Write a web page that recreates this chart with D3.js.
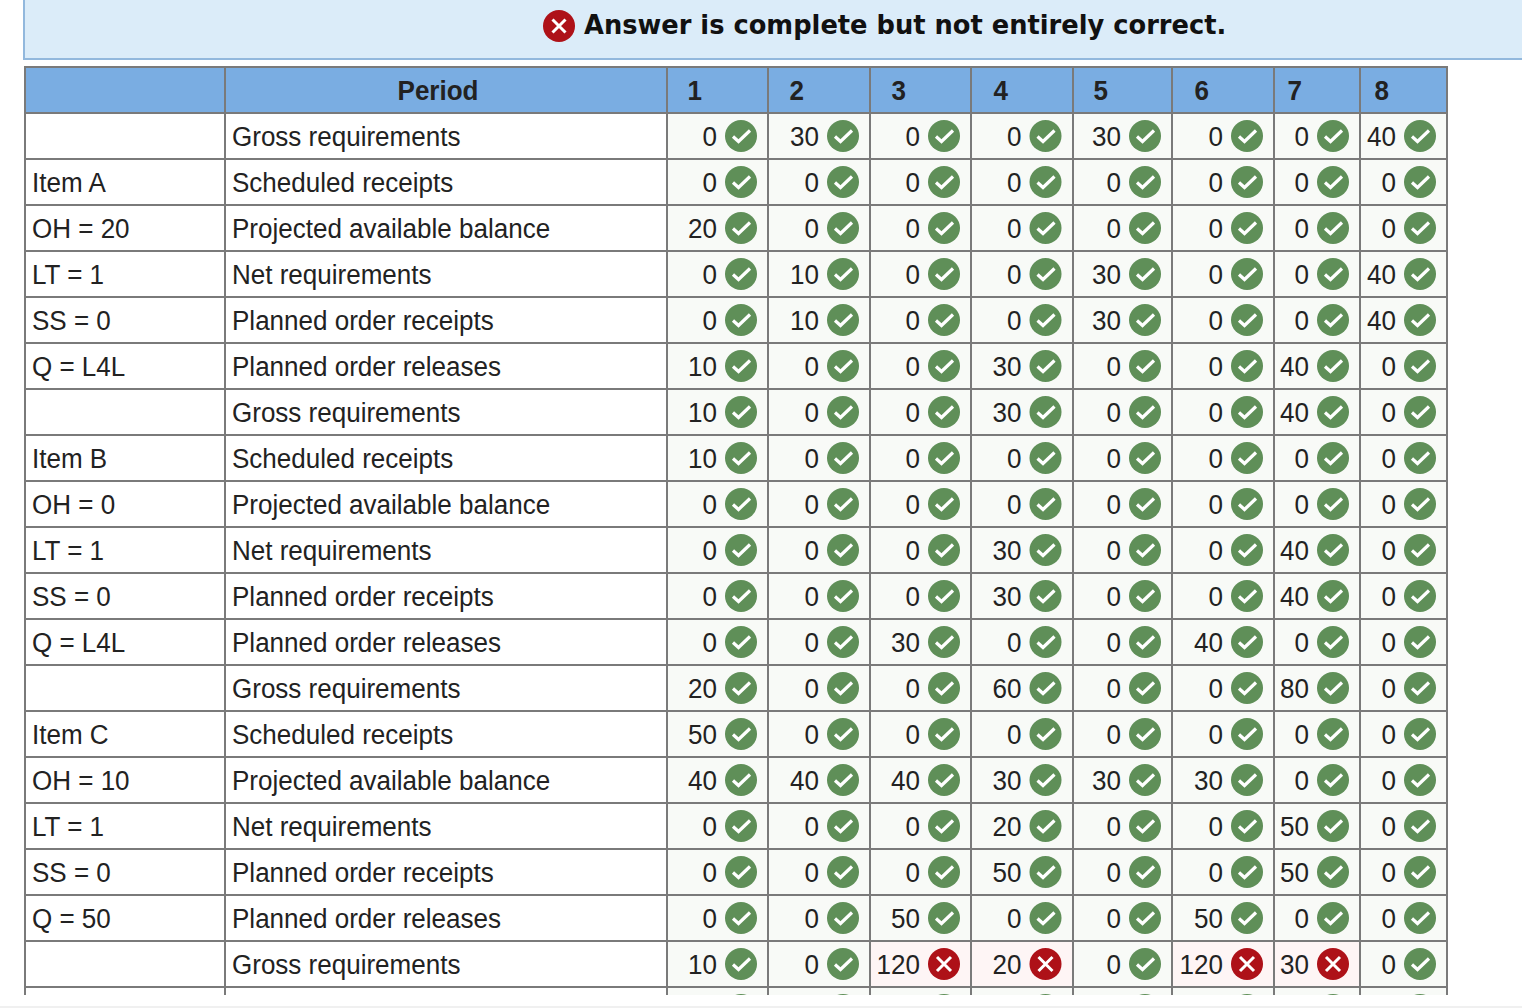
<!DOCTYPE html>
<html><head><meta charset="utf-8">
<script src="https://cdn.jsdelivr.net/npm/d3@7/dist/d3.min.js"></script>
<style>html,body{margin:0;padding:0;background:#fff;overflow:hidden}svg{display:block}</style>
</head><body><svg id="c" width="1522" height="1008"></svg>
<script>
const title = "Answer is complete but not entirely correct.";
const periods = [1,2,3,4,5,6,7,8];
const itemLabels = ["","Item A","OH = 20","LT = 1","SS = 0","Q = L4L","","Item B","OH = 0","LT = 1","SS = 0","Q = L4L","","Item C","OH = 10","LT = 1","SS = 0","Q = 50",""];
const rowNames = ["Gross requirements","Scheduled receipts","Projected available balance","Net requirements","Planned order receipts","Planned order releases"];
const rowLabels = d3.range(19).map(i => rowNames[i % 6]);
const values = [
 [0,30,0,0,30,0,0,40],[0,0,0,0,0,0,0,0],[20,0,0,0,0,0,0,0],[0,10,0,0,30,0,0,40],[0,10,0,0,30,0,0,40],[10,0,0,30,0,0,40,0],
 [10,0,0,30,0,0,40,0],[10,0,0,0,0,0,0,0],[0,0,0,0,0,0,0,0],[0,0,0,30,0,0,40,0],[0,0,0,30,0,0,40,0],[0,0,30,0,0,40,0,0],
 [20,0,0,60,0,0,80,0],[50,0,0,0,0,0,0,0],[40,40,40,30,30,30,0,0],[0,0,0,20,0,0,50,0],[0,0,0,50,0,0,50,0],[0,0,50,0,0,50,0,0],
 [10,0,120,20,0,120,30,0]
];
const wrongCells = ["18-2","18-3","18-5","18-6"];

const colEdges = [667,768,870,971,1073,1172,1274,1360,1447];
const iconOffset = [74,75,74,74.5,72,75,59,60];
const headOffset = [27.7,28.7,28.7,29.7,27.7,29.7,20.7,21.7];
const LINE="#7a7a7a", INK="#222222";
const svg = d3.select("#c");
const y = d3.scaleBand().domain(d3.range(-1,21)).range([67,67+46*22]).paddingInner(0);
const col = d3.scaleOrdinal().domain(periods).range(colEdges.slice(0,8));
const colEnd = d3.scaleOrdinal().domain(periods).range(colEdges.slice(1));
const icon = d3.scaleOrdinal().domain(periods).range(colEdges.slice(0,8).map((e,i)=>e+iconOffset[i]));
const X0=25,X1=225,X2=667,X3=1447,SX=0.964;
const TXT='"Liberation Sans",Arial,sans-serif';
const place=(x,yy)=>`translate(${x},${yy}) scale(${SX},1)`;

// banner
svg.append("rect").attr("x",24).attr("y",-2).attr("width",1500).attr("height",61).attr("fill","#dbecf9").attr("stroke","#92b8dd").attr("stroke-width",2);

function xIcon(g,cx,cy,r,arm){
  g.append("circle").attr("cx",cx).attr("cy",cy).attr("r",r).attr("fill","#ae1118");
  g.append("path").attr("d",`M${cx-arm},${cy-arm}L${cx+arm},${cy+arm}M${cx-arm},${cy+arm}L${cx+arm},${cy-arm}`)
    .attr("stroke","#fff").attr("stroke-width",3).attr("fill","none");
}
function okIcon(g,cx,cy){
  g.append("circle").attr("cx",cx).attr("cy",cy).attr("r",16).attr("fill","#5f8f58");
  g.append("path").attr("d",`M${cx-8},${cy+0.5}L${cx-2.5},${cy+5.5}L${cx+9},${cy-5.5}`)
    .attr("stroke","#fff").attr("stroke-width",3.2).attr("fill","none");
}
xIcon(svg,559,26,16,6.5);
svg.append("text").attr("x",584).attr("y",34).attr("font-family",'"DejaVu Sans",Verdana,sans-serif').attr("font-weight","bold").attr("font-size",25.72).attr("fill","#111").text(title);

svg.append("defs").append("clipPath").attr("id","clip").append("rect").attr("x",0).attr("y",60).attr("width",1522).attr("height",935);
const t = svg.append("g").attr("clip-path","url(#clip)");

// header
t.append("rect").attr("x",X0).attr("y",y(-1)).attr("width",X3-X0).attr("height",46).attr("fill","#7aade2");
t.append("text").attr("transform",place(438,y(-1)+33)).attr("text-anchor","middle").attr("font-family",TXT).attr("font-weight","bold").attr("font-size",27).attr("fill",INK).text("Period");
t.selectAll("text.ph").data(periods).join("text").attr("class","ph")
 .attr("transform",(p,i)=>place(col(p)+headOffset[i],y(-1)+33)).attr("text-anchor","middle").attr("font-family",TXT).attr("font-weight","bold").attr("font-size",27).attr("fill",INK).text(p=>p);

// cell backgrounds
const rows = d3.range(20);
rows.forEach(r=>{
  periods.forEach((p,j)=>{
    const bad = wrongCells.includes(r+"-"+j);
    t.append("rect").attr("x",col(p)).attr("y",y(r)).attr("width",colEnd(p)-col(p)).attr("height",46).attr("fill",bad?"#fef5f5":"#f8faf7");
  });
});
// labels
t.selectAll("text.item").data(itemLabels).join("text").attr("class","item")
 .attr("transform",(d,i)=>place(32,y(i)+33.4)).attr("font-family",TXT).attr("font-size",27).attr("fill",INK).text(d=>d);
t.selectAll("text.rowl").data(rowLabels).join("text").attr("class","rowl")
 .attr("transform",(d,i)=>place(232,y(i)+33.4)).attr("font-family",TXT).attr("font-size",27).attr("fill",INK).text(d=>d);
// values
values.forEach((row,r)=>{
  row.forEach((v,j)=>{
    const p=periods[j], cx=icon(p), cy=y(r)+23;
    t.append("text").attr("transform",place(cx-24,y(r)+33.4)).attr("text-anchor","end").attr("font-family",TXT).attr("font-size",27).attr("fill",INK).text(v);
    if(wrongCells.includes(r+"-"+j)) xIcon(t,cx,cy,16,7); else okIcon(t,cx,cy);
  });
});
// cut-off row: only icon tops are visible
periods.forEach(p=>okIcon(t,icon(p),y(19)+23));

// grid
const hl = d3.range(-1,21);
t.selectAll("line.h").data(hl).join("line").attr("class","h")
 .attr("x1",X0-1).attr("x2",X3+1).attr("y1",d=>y(d)).attr("y2",d=>y(d)).attr("stroke",LINE).attr("stroke-width",2);
t.selectAll("line.v").data([X0,X1,...colEdges]).join("line").attr("class","v")
 .attr("x1",d=>d).attr("x2",d=>d).attr("y1",67).attr("y2",1000).attr("stroke",LINE).attr("stroke-width",2);

// bottom strip
svg.append("rect").attr("x",0).attr("y",1006).attr("width",1522).attr("height",2).attr("fill","#f0f0f0");
</script></body></html>
